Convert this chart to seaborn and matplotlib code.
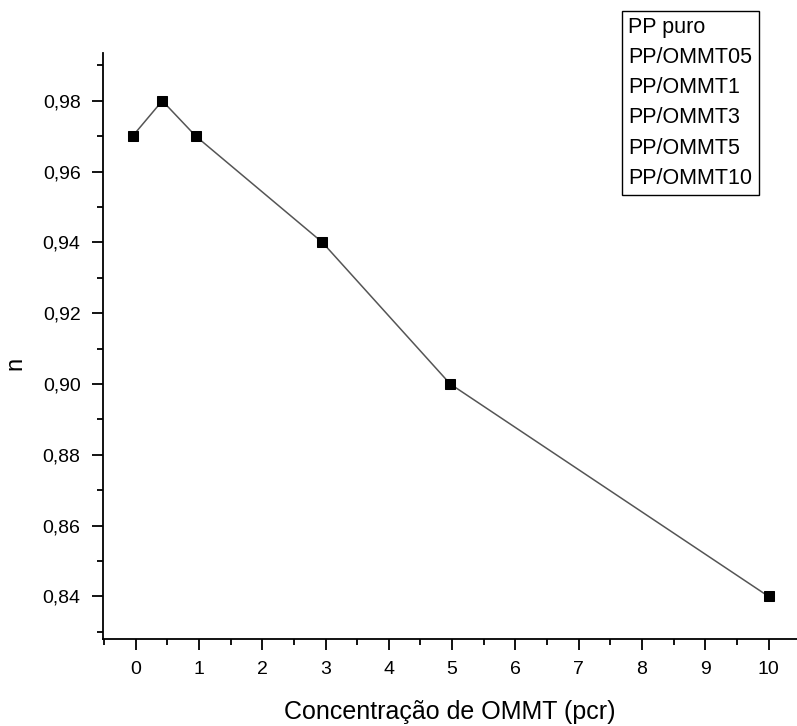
import matplotlib
matplotlib.use("Agg")
import matplotlib.pyplot as plt
import seaborn as sns
from matplotlib.lines import Line2D
from matplotlib.ticker import MultipleLocator, FuncFormatter

# dados
concentracao = [-0.05, 0.42, 0.95, 2.95, 4.97, 10.0]
valores_n = [0.97, 0.98, 0.97, 0.94, 0.90, 0.84]
amostras = ["PP puro", "PP/OMMT05", "PP/OMMT1", "PP/OMMT3", "PP/OMMT5", "PP/OMMT10"]

sns.set_theme(style="ticks")
plt.rcParams['font.family'] = ['Liberation Sans', 'DejaVu Sans']
plt.rcParams['text.color'] = 'black'
plt.rcParams['axes.labelcolor'] = 'black'

fig = plt.figure(figsize=(7.97, 7.26), dpi=100)
ax = fig.add_axes([0.129, 0.120, 0.871, 0.807])

sns.lineplot(x=concentracao, y=valores_n, ax=ax, color='#555555', linewidth=1.1,
             marker='s', markersize=7.5, markerfacecolor='black', markeredgecolor='black',
             sort=False)

ax.set_xlim(-0.52, 10.45)
ax.set_ylim(0.828, 0.9935)
ax.xaxis.set_major_locator(MultipleLocator(1))
ax.xaxis.set_minor_locator(MultipleLocator(0.5))
ax.yaxis.set_major_locator(MultipleLocator(0.02))
ax.yaxis.set_minor_locator(MultipleLocator(0.01))
ax.yaxis.set_major_formatter(FuncFormatter(lambda v, p: f"{v:.2f}".replace('.', ',')))

for s in ['top', 'right']:
    ax.spines[s].set_visible(False)
for s in ['left', 'bottom']:
    ax.spines[s].set_linewidth(1.3)
    ax.spines[s].set_color('black')

ax.tick_params(which='major', length=8, width=1.3, labelsize=14, pad=8,
               colors='black', labelcolor='black')
ax.tick_params(which='minor', length=4.5, width=1.3, colors='black')

ax.set_xlabel('Concentração de OMMT (pcr)', fontsize=18, labelpad=16)
ax.set_ylabel('n', fontsize=17)
ax.yaxis.set_label_coords(-0.11, 0.47)

handles = [Line2D([], [], linestyle='none') for _ in amostras]
leg = fig.legend(handles, amostras, loc='upper left', bbox_to_anchor=(0.780, 0.985),
                 handlelength=0, handletextpad=0, fontsize=15.5, frameon=True,
                 fancybox=False, borderpad=0.3, labelspacing=0.42, borderaxespad=0)
leg.get_frame().set_edgecolor('black')
leg.get_frame().set_linewidth(1.0)
leg.get_frame().set_alpha(1)
for t in leg.get_texts():
    t.set_color('black')

fig.savefig('out.png', dpi=100)
